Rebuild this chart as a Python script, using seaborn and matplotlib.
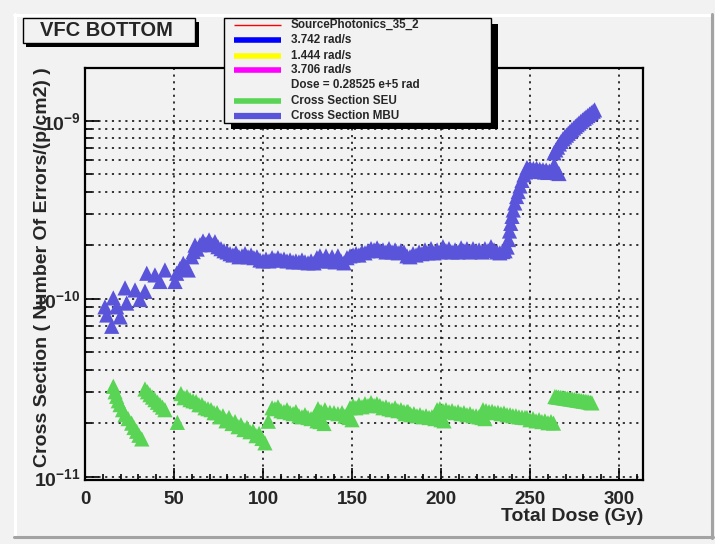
import matplotlib
matplotlib.use("Agg")
import matplotlib.pyplot as plt
import seaborn as sns
import pandas as pd
from matplotlib.patches import Rectangle
from matplotlib.lines import Line2D
from matplotlib.ticker import FixedLocator, FixedFormatter, NullFormatter, LogLocator, MultipleLocator

# ---------------- data ----------------
# SEU cross section, values in units of 1e-11
seu_dose = [15.9, 16.9, 17.8, 18.7, 19.7, 21.1, 22.5, 24.2, 26.2, 27.5, 29.0, 30.3, 31.9,
            33.7, 35.1, 36.5, 37.9, 39.3, 40.7, 42.1, 43.5, 44.9,
            51.9,
            53.9, 55.6, 57.3, 59.0, 60.7, 62.4, 64.0, 65.7, 67.4, 69.1, 70.8, 72.5, 74.2, 75.8, 77.5,
            79.2, 80.9, 82.6, 84.3, 86.0, 87.6, 89.3, 91.0, 92.7, 94.4, 96.1, 97.8, 99.4, 101.1,
            103.0,
            105.1, 106.7, 108.4, 110.1, 111.8, 113.5, 115.2, 116.9, 118.5, 120.2, 121.9, 123.6,
            125.3, 127.0, 128.7, 130.3, 132.0, 134.3,
            130.9, 132.6, 134.8, 137.6, 139.9, 142.1, 144.4, 146.1, 148.3, 150.0,
            148.9, 150.6, 152.2, 153.9, 155.6, 157.3, 159.0, 160.7, 162.4, 164.0, 165.7, 167.4,
            169.1, 170.8, 172.5, 174.2, 175.8, 177.5, 179.2, 180.9, 182.6,
            179.8, 181.5, 183.1, 184.8, 186.5, 188.2, 189.9, 191.6, 193.3, 194.9, 196.6, 198.3,
            200.0, 201.7,
            197.8, 199.4, 201.1, 202.8, 204.5, 206.2, 207.9, 209.6, 211.2, 212.9, 214.6, 216.3,
            218.0, 219.7, 221.3, 223.0, 224.7,
            223.6, 225.3, 227.0, 228.7, 230.3, 232.0, 233.7, 235.4, 237.1, 238.8, 240.4, 242.1,
            243.8, 245.5, 247.2,
            248.3, 250.0, 251.7, 253.4, 255.1, 256.7, 258.4, 260.1, 261.8, 263.2,
            264.0, 265.0, 266.0, 267.0, 268.0, 269.0, 270.0, 271.0, 272.0, 273.0, 274.0,
            275.0, 276.0, 277.0, 278.0, 279.0, 280.0, 281.0, 282.0, 283.0, 284.0, 284.8]
seu_xs_e11 = [3.22, 3.00, 2.83, 2.67, 2.54, 2.38, 2.23, 2.12, 2.00, 1.89, 1.80, 1.71, 1.63,
              3.11, 3.00, 2.89, 2.80, 2.71, 2.62, 2.54, 2.46, 2.38,
              2.02,
              2.93, 2.78, 2.82, 2.71, 2.67, 2.64, 2.54, 2.54, 2.44, 2.41, 2.38, 2.29, 2.29, 2.17, 2.20,
              2.06, 2.15, 1.99, 2.04, 1.91, 1.96, 1.84, 1.89, 1.79, 1.81, 1.70, 1.75, 1.64, 1.55,
              2.05,
              2.44, 2.41, 2.47, 2.35, 2.32, 2.38, 2.29, 2.26, 2.32, 2.20, 2.17, 2.23,
              2.15, 2.12, 2.17, 2.06, 2.04, 1.99,
              2.41, 2.32, 2.38, 2.30, 2.29, 2.26, 2.29, 2.19, 2.15, 2.09,
              2.44, 2.51, 2.44, 2.54, 2.47, 2.57, 2.51, 2.61, 2.51, 2.57, 2.51, 2.44,
              2.47, 2.41, 2.38, 2.44, 2.35, 2.38, 2.32, 2.32, 2.26,
              2.26, 2.32, 2.23, 2.26, 2.20, 2.23, 2.17, 2.20, 2.15, 2.17, 2.12, 2.15,
              2.09, 2.06,
              2.38, 2.41, 2.35, 2.38, 2.32, 2.35, 2.29, 2.32, 2.26, 2.29, 2.23, 2.26,
              2.20, 2.20, 2.17, 2.15, 2.12,
              2.38, 2.35, 2.32, 2.33, 2.29, 2.30, 2.26, 2.28, 2.23, 2.23, 2.20, 2.20,
              2.17, 2.16, 2.15,
              2.15, 2.09, 2.12, 2.06, 2.09, 2.04, 2.06, 2.01, 2.04, 2.00,
              2.82, 2.81, 2.80, 2.79, 2.78, 2.77, 2.76, 2.75, 2.74, 2.73, 2.72,
              2.71, 2.70, 2.69, 2.68, 2.67, 2.66, 2.65, 2.64, 2.63, 2.61, 2.60]

# MBU cross section, values in units of 1e-10
mbu_dose = [11.2, 12.2, 15.0, 15.9, 17.8, 19.7, 22.5, 23.4, 28.1, 30.9, 33.7, 34.7, 39.3,
            42.1, 44.9, 50.6, 51.5, 53.4, 55.2, 56.5, 58.0, 59.9, 60.8, 61.8, 63.0,
            64.6, 66.3, 68.0, 69.7, 71.3, 73.0, 74.7, 76.4, 78.1, 79.8,
            81.5, 83.1, 84.8, 86.5, 88.2, 89.9, 91.6, 93.3, 94.9, 96.6,
            98.3, 100.0, 101.7, 103.4, 105.1, 106.7, 108.4, 110.1, 111.8, 113.5,
            115.2, 116.9, 118.5, 120.2, 121.9, 123.6, 125.3, 127.0, 128.7, 130.3,
            132.0, 133.7, 135.4, 137.1, 138.8, 140.5, 142.1, 143.8, 145.5, 147.2,
            148.9, 150.6, 152.3, 153.9, 155.6, 157.3, 159.0, 160.7, 162.4, 164.1,
            165.7, 167.4, 169.1, 170.8, 172.5, 174.2, 175.9, 177.5, 179.2, 180.9,
            182.6, 184.3, 186.0, 187.7, 189.3, 191.0, 192.7, 194.4, 196.1, 197.8,
            199.5, 201.1, 202.8, 204.5, 206.2, 207.9, 209.6, 211.3, 212.9, 214.6,
            216.3, 218.0, 219.7, 221.4, 223.1, 224.7, 226.4, 228.1, 229.8, 231.5, 233.1,
            234.8, 236.0, 237.2, 237.9, 238.5, 239.2, 239.9, 240.6, 241.5, 242.5, 243.4, 244.4,
            245.5, 246.6, 247.5,
            248.3, 249.2, 250.1, 251.0, 251.9, 252.8, 253.7, 254.6, 255.5, 256.4, 257.3, 258.2,
            259.1, 260.0, 260.9, 261.8, 262.7, 263.6, 264.5, 265.4, 266.3,
            263.5, 264.5, 265.5, 266.5, 267.5, 268.5, 269.5, 270.5, 271.5, 272.5, 273.5, 274.5,
            275.5, 276.5, 277.5, 278.5, 279.5, 280.5, 281.5, 282.5, 283.5, 284.5, 285.5, 286.3]
mbu_xs_e10 = [0.90, 0.81, 0.70, 1.01, 0.90, 0.79, 1.15, 0.945, 1.12, 0.99, 1.10, 1.39, 1.36,
              1.25, 1.45, 1.25, 1.39, 1.48, 1.58, 1.52, 1.45, 1.72, 1.84, 2.00, 1.90,
              2.01, 2.11, 2.03, 2.14, 2.01, 2.09, 1.96, 1.91, 1.86, 1.83,
              1.79, 1.76, 1.81, 1.72, 1.74, 1.79, 1.72, 1.76, 1.70, 1.72,
              1.65, 1.63, 1.67, 1.63, 1.70, 1.65, 1.70, 1.65, 1.67, 1.63,
              1.65, 1.61, 1.63, 1.61, 1.65, 1.61, 1.59, 1.63, 1.59, 1.70,
              1.74, 1.63, 1.74, 1.63, 1.72, 1.61, 1.74, 1.63, 1.59, 1.70,
              1.74, 1.76, 1.79, 1.76, 1.83, 1.81, 1.86, 1.91, 1.88, 1.93,
              1.86, 1.88, 1.83, 1.91, 1.83, 1.88, 1.81, 1.86, 1.83, 1.74,
              1.72, 1.79, 1.76, 1.83, 1.79, 1.88, 1.81, 1.91, 1.81, 1.88,
              1.83, 1.96, 1.86, 1.91, 1.83, 1.88, 1.83, 1.93, 1.86, 1.91,
              1.83, 1.91, 1.86, 1.88, 1.83, 1.91, 1.86, 1.96, 1.88, 1.83, 1.81,
              1.84, 1.86, 1.95, 2.15, 2.40, 2.65, 2.90, 3.15, 3.45, 3.75, 4.00, 4.30,
              4.62, 4.96, 5.15,
              5.45, 5.30, 5.42, 5.25, 5.38, 5.22, 5.40, 5.20, 5.33, 5.18, 5.30, 5.15,
              5.28, 5.12, 5.22, 5.15, 5.30, 5.65, 5.20, 5.10, 5.05,
              6.60, 6.85, 7.10, 7.40, 7.65, 7.90, 8.10, 8.30, 8.50, 8.70, 8.90, 9.10,
              9.30, 9.50, 9.70, 9.90, 10.1, 10.3, 10.5, 10.7, 10.9, 11.1, 11.3, 11.5]

x_ticks = [0, 50, 100, 150, 200, 250, 300]
x_tick_labels = ["0", "50", "100", "150", "200", "250", "300"]
y_ticks = [1e-11, 1e-10, 1e-9]
y_tick_labels = [r"$\mathbf{10^{-11}}$", r"$\mathbf{10^{-10}}$", r"$\mathbf{10^{-9}}$"]

title_text = "VFC BOTTOM"
x_label = "Total Dose (Gy)"
y_label = "Cross Section ( Number Of Errors/(p/cm2) )"
legend_labels = ["SourcePhotonics_35_2", "3.742 rad/s", "1.444 rad/s", "3.706 rad/s",
                 "Dose = 0.28525 e+5 rad", "Cross Section SEU", "Cross Section MBU"]

# ---------------- style ----------------
GREEN = "#59d454"
PURPLE = "#5954d9"
BG = "#f2f2f2"
legend_colors = ["#ff0000", "#0000ff", "#ffff00", "#ff00ff", None, GREEN, PURPLE]
legend_widths = [1.0, 4.0, 4.0, 4.0, 0, 4.0, 4.5]

sns.set_style("ticks")
plt.rcParams["font.family"] = ["Liberation Sans", "DejaVu Sans"]
plt.rcParams["font.weight"] = "bold"
plt.rcParams["mathtext.fontset"] = "custom"
plt.rcParams["mathtext.bf"] = "Liberation Sans:bold"
plt.rcParams["mathtext.rm"] = "Liberation Sans:bold"

W, H = 715, 544
fig = plt.figure(figsize=(W / 100, H / 100), dpi=100, facecolor=BG)


def fx(x):
    return x / W


def fy(y):
    return 1 - y / H


ax_left, ax_right, ax_top, ax_bottom = 85, 643, 67.5, 479.5
ax = fig.add_axes([fx(ax_left), fy(ax_bottom), (ax_right - ax_left) / W, (ax_bottom - ax_top) / H])
ax.set_facecolor(BG)

df = pd.concat([
    pd.DataFrame({"dose": seu_dose, "xs": [v * 1e-11 for v in seu_xs_e11], "series": "Cross Section SEU"}),
    pd.DataFrame({"dose": mbu_dose, "xs": [v * 1e-10 for v in mbu_xs_e10], "series": "Cross Section MBU"}),
], ignore_index=True)

sns.scatterplot(data=df, x="dose", y="xs", hue="series",
                palette={"Cross Section SEU": GREEN, "Cross Section MBU": PURPLE},
                marker="^", s=120, linewidth=0, legend=False, ax=ax, zorder=3)

ax.set_yscale("log")
ax.set_xlim(0, 313.5)
ax.set_ylim(0.9645e-11, 1.99e-9)

ax.xaxis.set_major_locator(FixedLocator(x_ticks))
ax.xaxis.set_major_formatter(FixedFormatter(x_tick_labels))
ax.xaxis.set_minor_locator(MultipleLocator(10))
ax.yaxis.set_major_locator(FixedLocator(y_ticks))
ax.yaxis.set_major_formatter(FixedFormatter(y_tick_labels))
ax.yaxis.set_minor_locator(LogLocator(base=10, subs=[2, 3, 4, 5, 6, 7, 8, 9]))
ax.yaxis.set_minor_formatter(NullFormatter())

ax.tick_params(axis="both", which="both", direction="in", color="black", width=1.2,
               top=False, right=False)
ax.tick_params(axis="x", which="major", length=9, pad=8, labelsize=13.5)
ax.tick_params(axis="x", which="minor", length=4.5)
ax.tick_params(axis="y", which="major", length=10, pad=3, labelsize=14)
ax.tick_params(axis="y", which="minor", length=5)
for lab in ax.get_xticklabels():
    lab.set_fontweight("bold")

grid_kw = dict(color="black", linewidth=1.1, linestyle=(0, (1.4, 3.0)))
ax.xaxis.grid(True, which="major", **grid_kw)
ax.yaxis.grid(True, which="both", **grid_kw)
ax.set_axisbelow(True)

for sp in ax.spines.values():
    sp.set_color("black")
    sp.set_linewidth(1.6)
    sp.set_zorder(5)

ax.set_xlabel(x_label, fontsize=14, fontweight="bold", loc="right")
ax.xaxis.set_label_coords(1.0, -(508 - ax_bottom) / (ax_bottom - ax_top))
ax.set_ylabel(y_label, fontsize=14, fontweight="bold", loc="top")
ax.yaxis.set_label_coords(-(ax_left - 51) / (ax_right - ax_left), 1.0)

# ---------------- pad bevel ----------------
fig.add_artist(Line2D([fx(14), fx(712)], [fy(15), fy(15)], color="white", lw=2.2))
fig.add_artist(Line2D([fx(15), fx(15)], [fy(14), fy(537)], color="white", lw=2.2))
fig.add_artist(Line2D([fx(14), fx(713)], [fy(537), fy(537)], color="#a3a3a3", lw=2.2))
fig.add_artist(Line2D([fx(711.5), fx(711.5)], [fy(14), fy(538)], color="#a3a3a3", lw=2.2))

# ---------------- title box ----------------
tx0, ty0, tx1, ty1 = 22.7, 18.3, 195, 43.3
fig.add_artist(Rectangle((fx(tx0 + 3.5), fy(ty1 + 3.5)), (tx1 - tx0) / W, (ty1 - ty0) / H,
                         transform=fig.transFigure, facecolor="black", edgecolor="none", zorder=10))
fig.add_artist(Rectangle((fx(tx0), fy(ty1)), (tx1 - tx0) / W, (ty1 - ty0) / H,
                         transform=fig.transFigure, facecolor=BG, edgecolor="black", lw=1, zorder=11))
fig.text(fx(106), fy(31), title_text, ha="center", va="center", fontsize=14.5,
         fontweight="bold", zorder=12)

# ---------------- legend box ----------------
lx0, ly0, lx1, ly1 = 224.3, 18.3, 490.7, 122.7
fig.add_artist(Rectangle((fx(lx0 + 7), fy(ly1 + 6)), (lx1 - lx0) / W, (ly1 - ly0) / H,
                         transform=fig.transFigure, facecolor="black", edgecolor="none", zorder=10))
fig.add_artist(Rectangle((fx(lx0), fy(ly1)), (lx1 - lx0) / W, (ly1 - ly0) / H,
                         transform=fig.transFigure, facecolor=BG, edgecolor="black", lw=1, zorder=11))
row_y = [25, 40.3, 55.7, 70.3, 85.3, 100.7, 115.7]
for yy, lab, col, lw in zip(row_y, legend_labels, legend_colors, legend_widths):
    if col is not None:
        fig.add_artist(Line2D([fx(234), fx(281)], [fy(yy), fy(yy)], color=col, lw=lw,
                              solid_capstyle="butt", zorder=12))
    fig.text(fx(291), fy(yy), lab, ha="left", va="center", fontsize=8.4,
             fontweight="bold", zorder=12)

fig.savefig("out.png", dpi=100, facecolor=BG)
